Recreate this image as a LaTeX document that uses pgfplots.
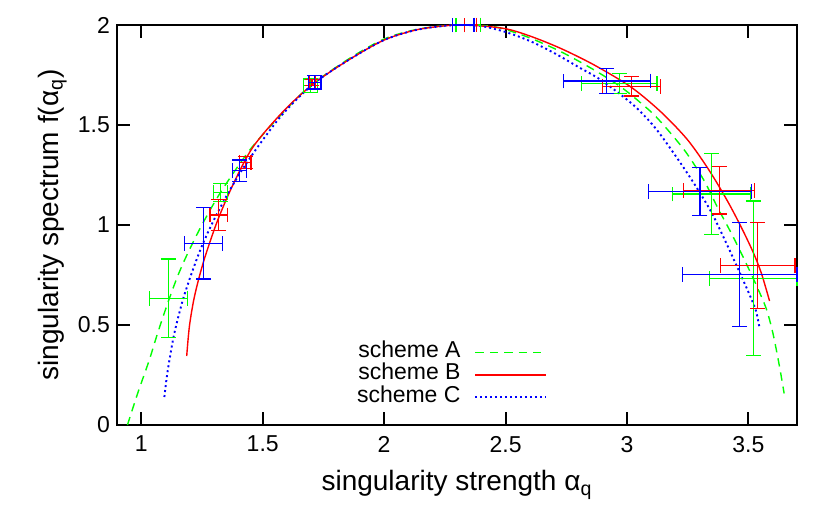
\documentclass[border=0pt]{standalone}
\usepackage{fontspec}
\setmainfont{Liberation Sans}
\usepackage{pgfplots}
\pgfplotsset{compat=1.18}
\definecolor{gpgreen}{rgb}{0,1,0}
\definecolor{gpred}{rgb}{1,0,0}
\definecolor{gpblue}{rgb}{0,0,1}

% error bars of one scheme; the point mark itself has zero size
\pgfplotsset{ebar/.style={forget plot, only marks, mark=-, mark size=0pt, color=#1,
    error bars/.cd, x dir=both, x explicit, y dir=both, y explicit,
    error bar style={line width=0.65pt, color=#1},
    error mark options={rotate=90, mark size=3.7pt, line width=0.65pt, color=#1}}}

\begin{document}
\begin{tikzpicture}
\path[use as bounding box] (-58.5pt,-48pt) rectangle (356.5pt,212.5pt);
\begin{axis}[
  scale only axis, width=340pt, height=200pt,
  xmin=0.9, xmax=3.7, ymin=0, ymax=2,
  xtick={1,1.5,2,2.5,3,3.5}, ytick={0,0.5,1,1.5,2},
  clip=false,
  axis line style={line width=1pt},
  tick style={line width=1pt, black}, major tick length=6.3pt,
  tick label style={font=\fontsize{11.5}{13}\selectfont},
  xticklabel style={yshift=-2pt},
  /pgf/number format/assume math mode=true,
  xlabel={singularity strength α\textsubscript{q}},
  ylabel={singularity spectrum f(α\textsubscript{q})},
  label style={font=\fontsize{14}{16}\selectfont},
  xlabel style={at={(axis description cs:0.5,-0.15)}, anchor=center},
  ylabel style={at={(axis description cs:-0.095,0.5)}, anchor=center},
  legend style={draw=none, fill=none, at={(axis description cs:0.633,0.04)},
    anchor=south east, inner sep=0pt, font=\fontsize{11.5}{13}\selectfont,
    row sep=0pt, nodes={inner sep=0pt, text height=8pt, text depth=3.25pt},
    /tikz/every odd column/.style={column sep=7pt}},
  legend cell align=right, legend plot pos=right,
  legend image code/.code={\draw[#1] (0pt,0pt) -- (35.3pt,0pt);},
]
\addplot[gpgreen, line width=0.7pt, dash pattern=on 4.2pt off 3pt, smooth] coordinates {
(0.943,0) (0.985,0.158) (1.033,0.325) (1.067,0.458) (1.109,0.61) (1.15,0.745)
(1.191,0.858) (1.253,1.008) (1.33,1.17) (1.45,1.38) (1.59,1.57) (1.70,1.70)
(1.86,1.835) (2.0,1.93) (2.13,1.977) (2.25,1.997) (2.34,2.0) (2.46,1.99)
(2.59,1.94) (2.727,1.867) (2.865,1.775) (2.975,1.69) (3.057,1.61) (3.126,1.533)
(3.236,1.375) (3.316,1.225) (3.374,1.085) (3.429,0.96) (3.484,0.825) (3.532,0.70)
(3.573,0.583) (3.601,0.458) (3.628,0.292) (3.647,0.158)};
\addlegendentry{scheme A}
\addplot[gpred, line width=0.7pt, smooth] coordinates {
(1.187,0.345) (1.198,0.492) (1.216,0.625) (1.239,0.742) (1.267,0.858) (1.315,1.025)
(1.377,1.20) (1.46,1.39) (1.59,1.575) (1.715,1.712) (1.86,1.83) (2.0,1.925)
(2.13,1.975) (2.25,1.996) (2.34,2.0) (2.493,1.983) (2.6,1.945) (2.727,1.883)
(2.865,1.80) (3.016,1.69) (3.14,1.565) (3.25,1.425) (3.34,1.27) (3.415,1.117)
(3.47,0.99) (3.519,0.865) (3.553,0.76) (3.587,0.62)};
\addlegendentry{scheme B}
\addplot[gpblue, line width=0.95pt, dash pattern=on 1pt off 1.5pt, smooth] coordinates {
(1.095,0.14) (1.105,0.24) (1.116,0.325) (1.136,0.458) (1.171,0.625) (1.212,0.775)
(1.253,0.905) (1.301,1.03) (1.36,1.165) (1.42,1.285) (1.50,1.425) (1.59,1.565)
(1.715,1.712) (1.86,1.83) (2.0,1.925) (2.13,1.975) (2.25,1.996) (2.32,2.0)
(2.40,1.995) (2.50,1.965) (2.60,1.92) (2.70,1.86) (2.80,1.79) (2.88,1.735)
(2.96,1.665) (3.04,1.585) (3.12,1.48) (3.209,1.33) (3.28,1.20) (3.346,1.067)
(3.401,0.93) (3.45,0.80) (3.498,0.67) (3.53,0.575) (3.545,0.49)};
\addlegendentry{scheme C}

\addplot[ebar=gpgreen] coordinates {
(1.111,0.633) +- (0.078,0.197)
(1.326,1.162) +- (0.03,0.045)
(1.696,1.697) +- (0.029,0.033)
(2.346,2.0) +- (0.05,0)
(2.968,1.708) +- (0.155,0.05)
(3.348,1.155) +- (0.16,0.202)
(3.52,0.733) +- (0.18,0.387)};
\addplot[ebar=gpred] coordinates {
(1.319,1.05) +- (0.036,0.076)
(1.428,1.313) +- (0.024,0.029)
(1.703,1.712) +- (0.012,0.015)
(2.356,2.0) +- (0.025,0)
(3.019,1.693) +- (0.119,0.048)
(3.38,1.173) +- (0.146,0.118)
(3.538,0.798) +- (0.154,0.215)};
\addplot[ebar=gpblue] coordinates {
(1.257,0.908) +- (0.078,0.178)
(1.405,1.271) +- (0.028,0.054)
(1.714,1.713) +- (0.026,0.033)
(2.326,2.0) +- (0.044,0)
(2.917,1.72) +- (0.179,0.063)
(3.30,1.167) +- (0.212,0.12)
(3.464,0.753) +- (0.236,0.26)};
\end{axis}
\end{tikzpicture}
\end{document}
